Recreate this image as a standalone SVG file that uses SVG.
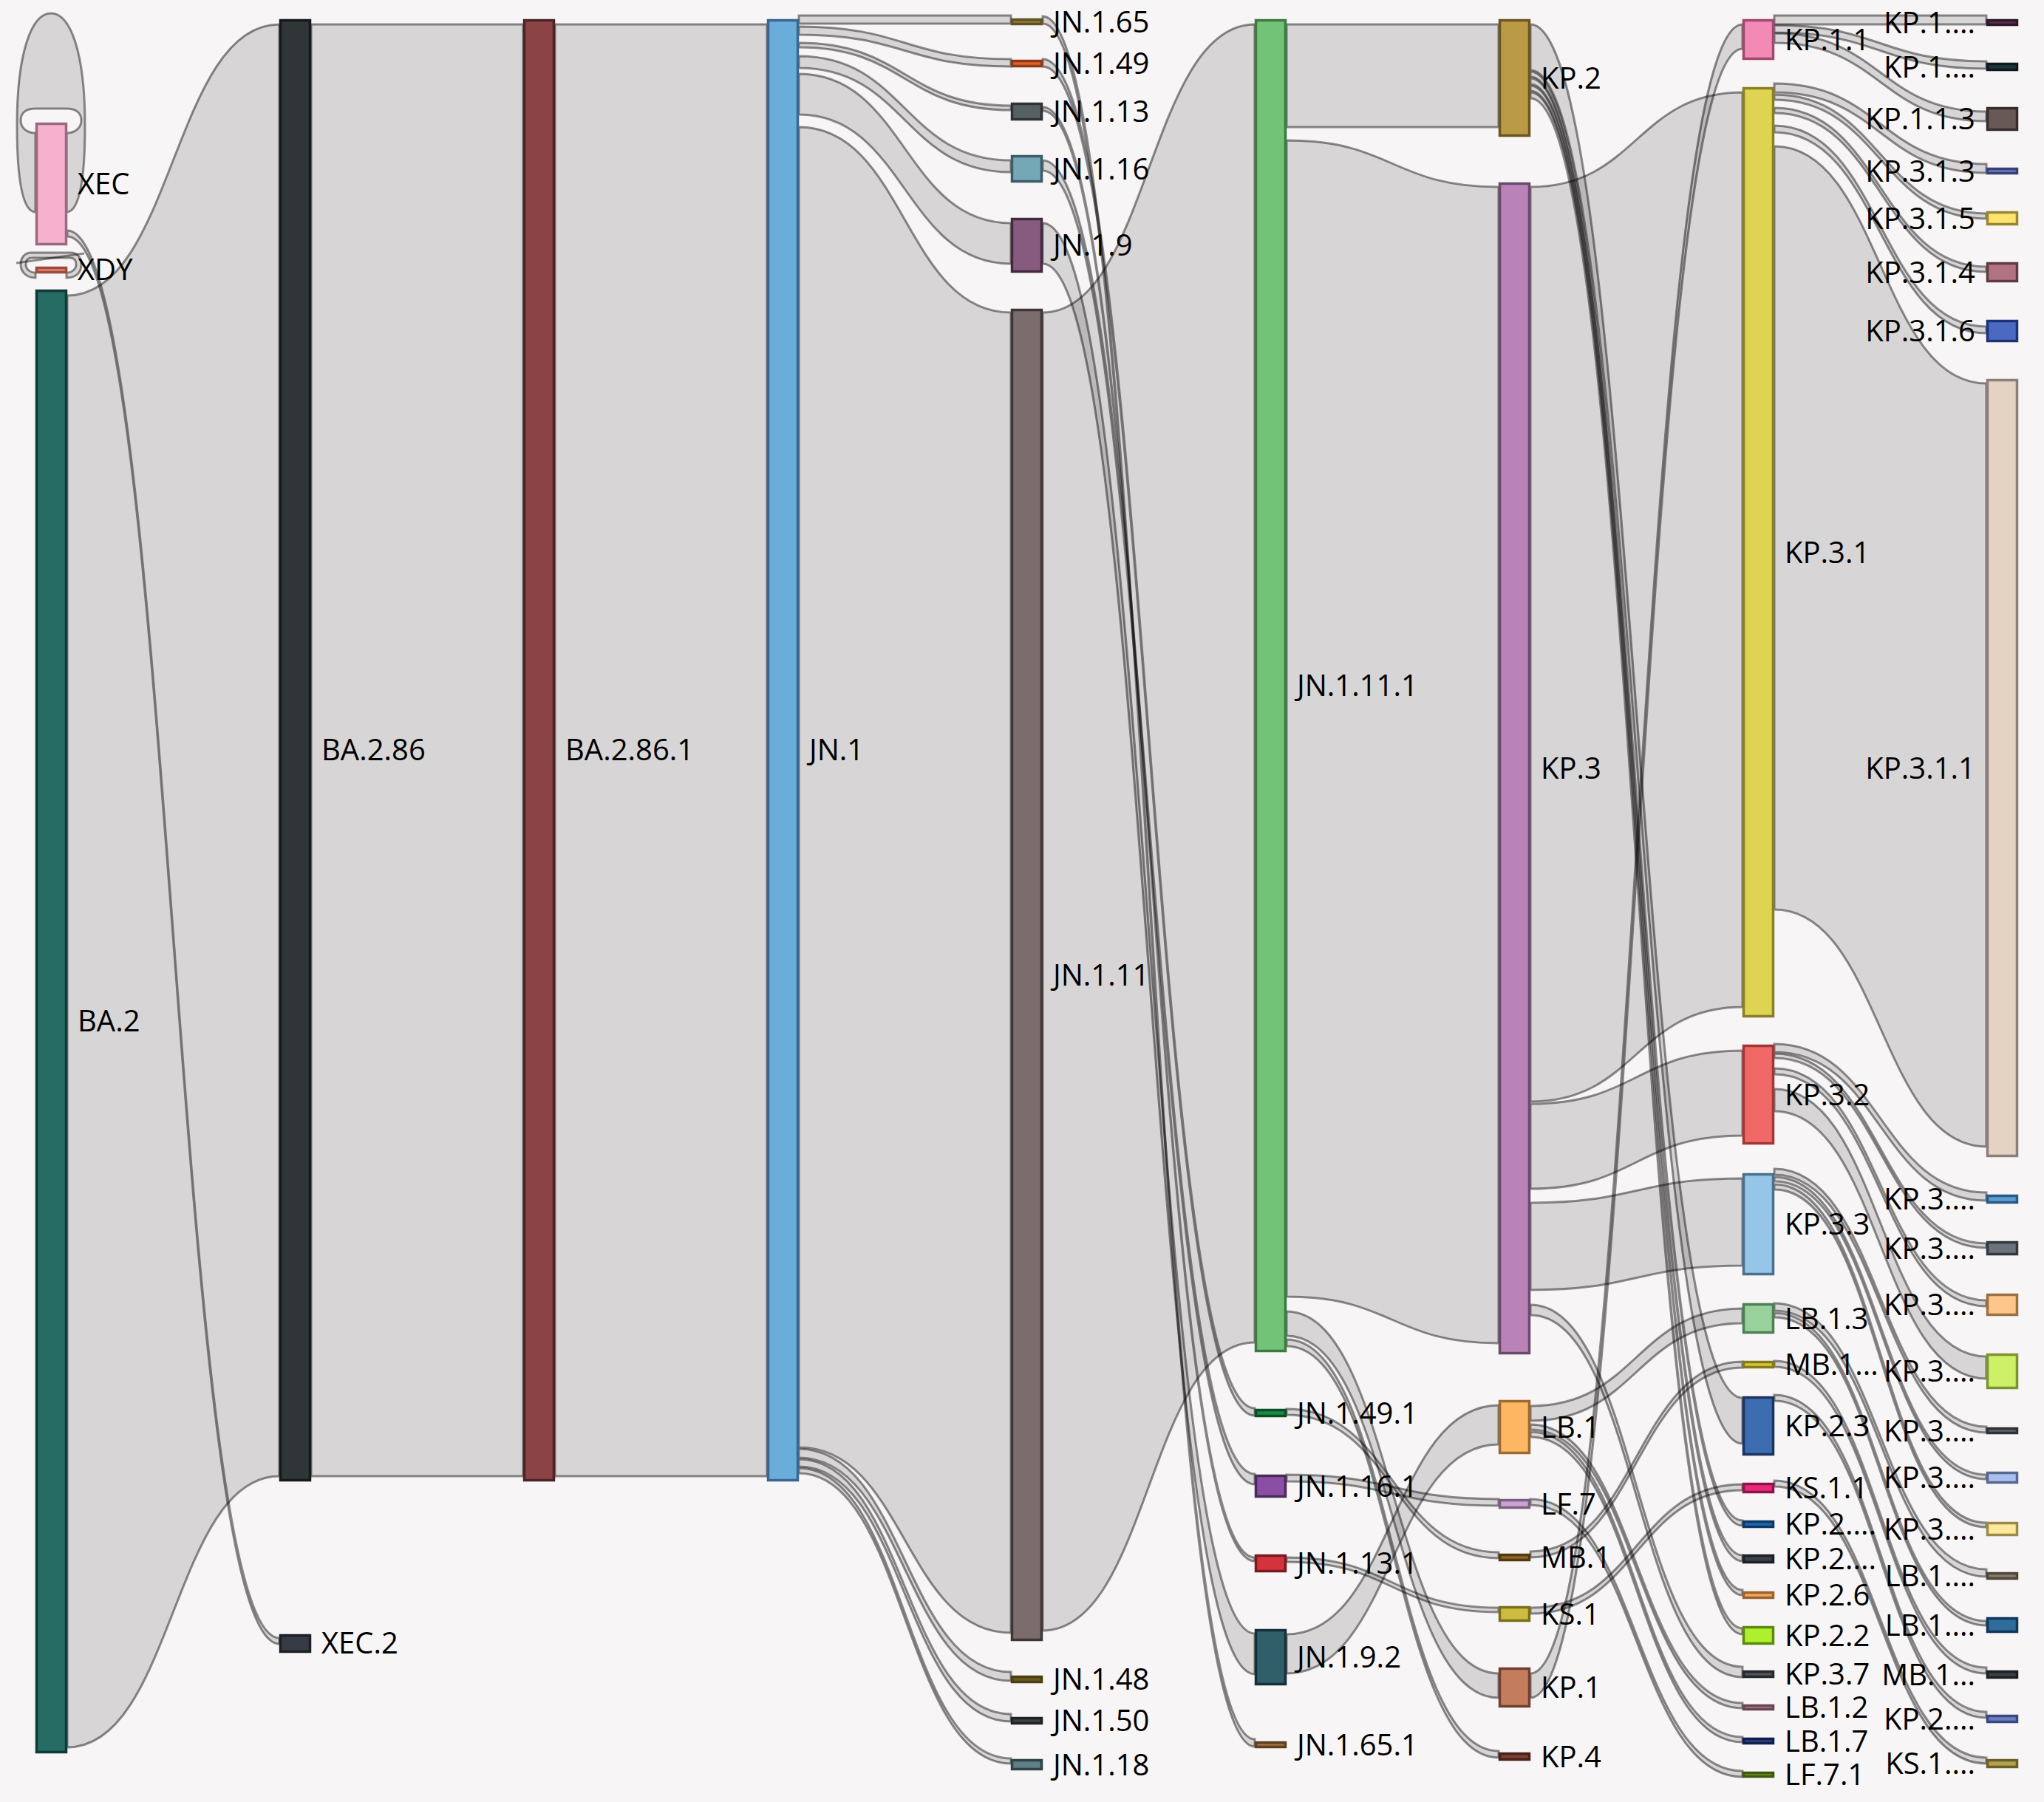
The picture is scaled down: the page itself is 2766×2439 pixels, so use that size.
<svg xmlns="http://www.w3.org/2000/svg" width="2766" height="2439" viewBox="0 0 2766 2439">
<style>
.lk path{fill:#000;fill-opacity:0.13;stroke:#000;stroke-opacity:0.44;stroke-width:3}
.nd rect{stroke-width:3.5}
text{font-family:"Open Sans","Noto Sans","DejaVu Sans",sans-serif;font-size:40px;fill:#000}
.r{text-anchor:end}
</style>
<rect x="0" y="0" width="2766" height="2439" fill="#f8f5f6"/>
<g class="lk" id="links">
<path d="M90,287 C108,287 115,240 115,170 C115,70 95,18 69,18 C43,18 23,70 23,170 C23,240 30,287 48,287 L48,180 C35,180 28,172 28,163 C28,152 36,147 48,147 L90,147 C102,147 110,152 110,163 C110,172 103,180 90,180 Z"/>
<path d="M90,376 C104,376 110,368 110,358 C110,348 104,342 96,342 L42,342 C34,342 28,348 28,358 C28,368 36,376 48,376 L48,369 C40,369 35,364 35,358 C35,352 38,349 43,349 L95,349 C100,349 103,352 103,358 C103,364 98,369 90,369 Z"/>
<path d="M22,356 L114,343" style="fill:none"/>
<path d="M91,400 C234.5,400 234.5,33 378,33 L378,1998 C234.5,1998 234.5,2365 91,2365 Z"/>
<path d="M91,312 C234.5,312 234.5,2217 378,2217 L378,2225 C234.5,2225 234.5,320 91,320 Z"/>
<path d="M421,33 L708,33 L708,1998 L421,1998 Z"/>
<path d="M751,33 L1038,33 L1038,1998 L751,1998 Z"/>
<path d="M1081,21 L1368,21 L1368,32 L1081,32 Z"/>
<path d="M1081,36 C1224.5,36 1224.5,80 1368,80 L1368,90 C1224.5,90 1224.5,47 1081,47 Z"/>
<path d="M1081,58 C1224.5,58 1224.5,143 1368,143 L1368,149 C1224.5,149 1224.5,64 1081,64 Z"/>
<path d="M1081,76 C1224.5,76 1224.5,217 1368,217 L1368,233 C1224.5,233 1224.5,92 1081,92 Z"/>
<path d="M1081,100 C1224.5,100 1224.5,302 1368,302 L1368,357 C1224.5,357 1224.5,155 1081,155 Z"/>
<path d="M1081,172 C1224.5,172 1224.5,423 1368,423 L1368,2210 C1224.5,2210 1224.5,1959 1081,1959 Z"/>
<path d="M1081,1961 C1224.5,1961 1224.5,2263 1368,2263 L1368,2275 C1224.5,2275 1224.5,1973 1081,1973 Z"/>
<path d="M1081,1975 C1224.5,1975 1224.5,2320 1368,2320 L1368,2330 C1224.5,2330 1224.5,1985 1081,1985 Z"/>
<path d="M1081,1987 C1224.5,1987 1224.5,2380 1368,2380 L1368,2387 C1224.5,2387 1224.5,1994 1081,1994 Z"/>
<path d="M1411,22 C1554.5,22 1554.5,2354 1698,2354 L1698,2364 C1554.5,2364 1554.5,32 1411,32 Z"/>
<path d="M1411,80 C1554.5,80 1554.5,1906 1698,1906 L1698,1916 C1554.5,1916 1554.5,90 1411,90 Z"/>
<path d="M1411,145 C1554.5,145 1554.5,2108 1698,2108 L1698,2113 C1554.5,2113 1554.5,150 1411,150 Z"/>
<path d="M1411,217 C1554.5,217 1554.5,1995 1698,1995 L1698,2009 C1554.5,2009 1554.5,231 1411,231 Z"/>
<path d="M1411,302 C1554.5,302 1554.5,2211 1698,2211 L1698,2266 C1554.5,2266 1554.5,357 1411,357 Z"/>
<path d="M1411,423 C1554.5,423 1554.5,33 1698,33 L1698,1817 C1554.5,1817 1554.5,2207 1411,2207 Z"/>
<path d="M1741,33 L2028,33 L2028,172 L1741,172 Z"/>
<path d="M1741,190 C1884.5,190 1884.5,253 2028,253 L2028,1818 C1884.5,1818 1884.5,1755 1741,1755 Z"/>
<path d="M1741,1775 C1884.5,1775 1884.5,2265 2028,2265 L2028,2298 C1884.5,2298 1884.5,1808 1741,1808 Z"/>
<path d="M1741,1813 C1884.5,1813 1884.5,2370 2028,2370 L2028,2379 C1884.5,2379 1884.5,1822 1741,1822 Z"/>
<path d="M1741,1907 C1884.5,1907 1884.5,2101 2028,2101 L2028,2109 C1884.5,2109 1884.5,1915 1741,1915 Z"/>
<path d="M1741,1996 C1884.5,1996 1884.5,2029 2028,2029 L2028,2038 C1884.5,2038 1884.5,2005 1741,2005 Z"/>
<path d="M1741,2108 C1884.5,2108 1884.5,2176 2028,2176 L2028,2182 C1884.5,2182 1884.5,2114 1741,2114 Z"/>
<path d="M1741,2212 C1884.5,2212 1884.5,1902 2028,1902 L2028,1955 C1884.5,1955 1884.5,2265 1741,2265 Z"/>
<path d="M2071,33 C2214.5,33 2214.5,1892 2358,1892 L2358,1954 C2214.5,1954 2214.5,95 2071,95 Z"/>
<path d="M2071,97 C2214.5,97 2214.5,2058 2358,2058 L2358,2065 C2214.5,2065 2214.5,104 2071,104 Z"/>
<path d="M2071,106 C2214.5,106 2214.5,2105 2358,2105 L2358,2113 C2214.5,2113 2214.5,114 2071,114 Z"/>
<path d="M2071,116 C2214.5,116 2214.5,2152 2358,2152 L2358,2159 C2214.5,2159 2214.5,123 2071,123 Z"/>
<path d="M2071,125 C2214.5,125 2214.5,2204 2358,2204 L2358,2212 C2214.5,2212 2214.5,133 2071,133 Z"/>
<path d="M2071,253 C2214.5,253 2214.5,125 2358,125 L2358,1363 C2214.5,1363 2214.5,1491 2071,1491 Z"/>
<path d="M2071,1494 C2214.5,1494 2214.5,1422 2358,1422 L2358,1537 C2214.5,1537 2214.5,1609 2071,1609 Z"/>
<path d="M2071,1628 C2214.5,1628 2214.5,1595 2358,1595 L2358,1713 C2214.5,1713 2214.5,1746 2071,1746 Z"/>
<path d="M2071,1766 C2214.5,1766 2214.5,2256 2358,2256 L2358,2270 C2214.5,2270 2214.5,1780 2071,1780 Z"/>
<path d="M2071,1903 C2214.5,1903 2214.5,1771 2358,1771 L2358,1791 C2214.5,1791 2214.5,1923 2071,1923 Z"/>
<path d="M2071,1928 C2214.5,1928 2214.5,2305 2358,2305 L2358,2312 C2214.5,2312 2214.5,1935 2071,1935 Z"/>
<path d="M2071,1938 C2214.5,1938 2214.5,2351 2358,2351 L2358,2358 C2214.5,2358 2214.5,1945 2071,1945 Z"/>
<path d="M2071,2029 C2214.5,2029 2214.5,2397 2358,2397 L2358,2405 C2214.5,2405 2214.5,2037 2071,2037 Z"/>
<path d="M2071,2100 C2214.5,2100 2214.5,1843 2358,1843 L2358,1851 C2214.5,1851 2214.5,2108 2071,2108 Z"/>
<path d="M2071,2176 C2214.5,2176 2214.5,2009 2358,2009 L2358,2017 C2214.5,2017 2214.5,2184 2071,2184 Z"/>
<path d="M2071,2265 C2214.5,2265 2214.5,33 2358,33 L2358,66 C2214.5,66 2214.5,2298 2071,2298 Z"/>
<path d="M2401,21 L2688,21 L2688,33 L2401,33 Z"/>
<path d="M2401,34 C2544.5,34 2544.5,83 2688,83 L2688,93 C2544.5,93 2544.5,44 2401,44 Z"/>
<path d="M2401,45 C2544.5,45 2544.5,151 2688,151 L2688,164 C2544.5,164 2544.5,58 2401,58 Z"/>
<path d="M2401,113 C2544.5,113 2544.5,222 2688,222 L2688,234 C2544.5,234 2544.5,125 2401,125 Z"/>
<path d="M2401,128 C2544.5,128 2544.5,289 2688,289 L2688,296 C2544.5,296 2544.5,135 2401,135 Z"/>
<path d="M2401,146 C2544.5,146 2544.5,361 2688,361 L2688,368 C2544.5,368 2544.5,153 2401,153 Z"/>
<path d="M2401,170 C2544.5,170 2544.5,442 2688,442 L2688,451 C2544.5,451 2544.5,179 2401,179 Z"/>
<path d="M2401,198 C2544.5,198 2544.5,519 2688,519 L2688,1552 C2544.5,1552 2544.5,1231 2401,1231 Z"/>
<path d="M2401,1413 C2544.5,1413 2544.5,1614 2688,1614 L2688,1625 C2544.5,1625 2544.5,1424 2401,1424 Z"/>
<path d="M2401,1426 C2544.5,1426 2544.5,1683 2688,1683 L2688,1689 C2544.5,1689 2544.5,1432 2401,1432 Z"/>
<path d="M2401,1446 C2544.5,1446 2544.5,1760 2688,1760 L2688,1768 C2544.5,1768 2544.5,1454 2401,1454 Z"/>
<path d="M2401,1474 C2544.5,1474 2544.5,1836 2688,1836 L2688,1866 C2544.5,1866 2544.5,1504 2401,1504 Z"/>
<path d="M2401,1582 C2544.5,1582 2544.5,1931 2688,1931 L2688,1939 C2544.5,1939 2544.5,1590 2401,1590 Z"/>
<path d="M2401,1593 C2544.5,1593 2544.5,1996 2688,1996 L2688,2002 C2544.5,2002 2544.5,1599 2401,1599 Z"/>
<path d="M2401,1603 C2544.5,1603 2544.5,2061 2688,2061 L2688,2067 C2544.5,2067 2544.5,1610 2401,1610 Z"/>
<path d="M2401,1764 C2544.5,1764 2544.5,2124 2688,2124 L2688,2134 C2544.5,2134 2544.5,1774 2401,1774 Z"/>
<path d="M2401,1777 C2544.5,1777 2544.5,2194 2688,2194 L2688,2200 C2544.5,2200 2544.5,1783 2401,1783 Z"/>
<path d="M2401,1842 C2544.5,1842 2544.5,2257 2688,2257 L2688,2265 C2544.5,2265 2544.5,1850 2401,1850 Z"/>
<path d="M2401,1888 C2544.5,1888 2544.5,2317 2688,2317 L2688,2325 C2544.5,2325 2544.5,1896 2401,1896 Z"/>
<path d="M2401,2004 C2544.5,2004 2544.5,2379 2688,2379 L2688,2387 C2544.5,2387 2544.5,2012 2401,2012 Z"/>
</g>
<g class="nd">
<g id="n-XEC"><rect x="49.5" y="167.5" width="40" height="163" fill="#f5b1cd" stroke="#9a6b80"/><text x="105" y="263">XEC</text></g>
<g id="n-XDY"><rect x="49.5" y="362.5" width="40" height="6" fill="#e8826f" stroke="#9e4a3c"/><text x="105" y="379">XDY</text></g>
<g id="n-BA.2"><rect x="49.5" y="393.5" width="40" height="1978" fill="#266c64" stroke="#0f3b36"/><text x="105" y="1396">BA.2</text></g>
<g id="n-BA.2.86"><rect x="379.5" y="27.5" width="40" height="1976" fill="#303538" stroke="#16191b"/><text x="435" y="1029">BA.2.86</text></g>
<g id="n-XEC.2"><rect x="379.5" y="2213.5" width="40" height="22" fill="#353c45" stroke="#1c2025"/><text x="435" y="2238">XEC.2</text></g>
<g id="n-BA.2.86.1"><rect x="709.5" y="27.5" width="40" height="1976" fill="#8b4346" stroke="#4c2426"/><text x="765" y="1029">BA.2.86.1</text></g>
<g id="n-JN.1"><rect x="1039.5" y="27.5" width="40" height="1976" fill="#6badda" stroke="#3b6690"/><text x="1095" y="1029">JN.1</text></g>
<g id="n-JN.1.65"><rect x="1369.5" y="26.5" width="40" height="6" fill="#8f7d37" stroke="#5f5224"/><text x="1425" y="44">JN.1.65</text></g>
<g id="n-JN.1.49"><rect x="1369.5" y="82.5" width="40" height="7" fill="#e1602b" stroke="#8d3a18"/><text x="1425" y="100">JN.1.49</text></g>
<g id="n-JN.1.13"><rect x="1369.5" y="140.5" width="40" height="21" fill="#576163" stroke="#2c3335"/><text x="1425" y="165">JN.1.13</text></g>
<g id="n-JN.1.16"><rect x="1369.5" y="211.5" width="40" height="34" fill="#75a8b7" stroke="#3b5d68"/><text x="1425" y="243">JN.1.16</text></g>
<g id="n-JN.1.9"><rect x="1369.5" y="296.5" width="40" height="71" fill="#865b7f" stroke="#442a40"/><text x="1425" y="346">JN.1.9</text></g>
<g id="n-JN.1.11"><rect x="1369.5" y="419.5" width="40" height="1800" fill="#7b6d6d" stroke="#3f3535"/><text x="1425" y="1334">JN.1.11</text></g>
<g id="n-JN.1.48"><rect x="1369.5" y="2269.5" width="40" height="7" fill="#6b5b1f" stroke="#4a3e12"/><text x="1425" y="2287">JN.1.48</text></g>
<g id="n-JN.1.50"><rect x="1369.5" y="2325.5" width="40" height="7" fill="#3c4244" stroke="#1e2224"/><text x="1425" y="2343">JN.1.50</text></g>
<g id="n-JN.1.18"><rect x="1369.5" y="2382.5" width="40" height="12" fill="#5f7e86" stroke="#2e4248"/><text x="1425" y="2403">JN.1.18</text></g>
<g id="n-JN.1.11.1"><rect x="1699.5" y="27.5" width="40" height="1801" fill="#72c277" stroke="#3c7a41"/><text x="1755" y="942">JN.1.11.1</text></g>
<g id="n-JN.1.49.1"><rect x="1699.5" y="1908.5" width="40" height="8" fill="#178a46" stroke="#0b4d26"/><text x="1755" y="1927">JN.1.49.1</text></g>
<g id="n-JN.1.16.1"><rect x="1699.5" y="1997.5" width="40" height="28" fill="#8a4ea4" stroke="#4a2a5a"/><text x="1755" y="2026">JN.1.16.1</text></g>
<g id="n-JN.1.13.1"><rect x="1699.5" y="2105.5" width="40" height="21" fill="#d2333d" stroke="#7a1a20"/><text x="1755" y="2130">JN.1.13.1</text></g>
<g id="n-JN.1.9.2"><rect x="1699.5" y="2206.5" width="40" height="73" fill="#305e69" stroke="#14303a"/><text x="1755" y="2257">JN.1.9.2</text></g>
<g id="n-JN.1.65.1"><rect x="1699.5" y="2358.5" width="40" height="6" fill="#a0713d" stroke="#5e4020"/><text x="1755" y="2376">JN.1.65.1</text></g>
<g id="n-KP.2"><rect x="2029.5" y="27.5" width="40" height="156" fill="#ba9a44" stroke="#6b5520"/><text x="2085" y="120">KP.2</text></g>
<g id="n-KP.3"><rect x="2029.5" y="248.5" width="40" height="1583" fill="#ba83b8" stroke="#6a4a6a"/><text x="2085" y="1054">KP.3</text></g>
<g id="n-LB.1"><rect x="2029.5" y="1896.5" width="40" height="70" fill="#fdb662" stroke="#9a6a30"/><text x="2085" y="1946">LB.1</text></g>
<g id="n-LF.7"><rect x="2029.5" y="2030.5" width="40" height="10" fill="#c9a3d1" stroke="#7a5f80"/><text x="2085" y="2050">LF.7</text></g>
<g id="n-MB.1"><rect x="2029.5" y="2104.5" width="40" height="7" fill="#8b6526" stroke="#52390f"/><text x="2085" y="2122">MB.1</text></g>
<g id="n-KS.1"><rect x="2029.5" y="2175.5" width="40" height="18" fill="#cdbc40" stroke="#7a6f18"/><text x="2085" y="2199">KS.1</text></g>
<g id="n-KP.1"><rect x="2029.5" y="2258.5" width="40" height="51" fill="#c37c5c" stroke="#6f4030"/><text x="2085" y="2298">KP.1</text></g>
<g id="n-KP.4"><rect x="2029.5" y="2373.5" width="40" height="8" fill="#7b3f2f" stroke="#4a2219"/><text x="2085" y="2392">KP.4</text></g>
<g id="n-KP.1.1"><rect x="2359.5" y="27.5" width="40" height="52" fill="#f38ab6" stroke="#9e4a6e"/><text x="2415" y="68">KP.1.1</text></g>
<g id="n-KP.3.1"><rect x="2359.5" y="119.5" width="40" height="1256" fill="#dfd451" stroke="#8a7f25"/><text x="2415" y="762">KP.3.1</text></g>
<g id="n-KP.3.2"><rect x="2359.5" y="1415.5" width="40" height="132" fill="#f16967" stroke="#a23636"/><text x="2415" y="1496">KP.3.2</text></g>
<g id="n-KP.3.3"><rect x="2359.5" y="1589.5" width="40" height="135" fill="#95c5e7" stroke="#4b708d"/><text x="2415" y="1671">KP.3.3</text></g>
<g id="n-LB.1.3"><rect x="2359.5" y="1765.5" width="40" height="38" fill="#99d19c" stroke="#4f7e53"/><text x="2415" y="1799">LB.1.3</text></g>
<g id="n-MB.1.x"><rect x="2359.5" y="1843.5" width="40" height="7" fill="#d5c53b" stroke="#857a18"/><text x="2415" y="1861">MB.1...</text></g>
<g id="n-KP.2.3"><rect x="2359.5" y="1891.5" width="40" height="77" fill="#3e6cb1" stroke="#1b3561"/><text x="2415" y="1944">KP.2.3</text></g>
<g id="n-KS.1.1"><rect x="2359.5" y="2008.5" width="40" height="11" fill="#e9297b" stroke="#8e1347"/><text x="2415" y="2028">KS.1.1</text></g>
<g id="n-KP.2.a"><rect x="2359.5" y="2059.5" width="40" height="7" fill="#1c68b1" stroke="#0d3a66"/><text x="2415" y="2077">KP.2....</text></g>
<g id="n-KP.2.b"><rect x="2359.5" y="2105.5" width="40" height="9" fill="#3b4049" stroke="#1d2026"/><text x="2415" y="2124">KP.2....</text></g>
<g id="n-KP.2.6"><rect x="2359.5" y="2155.5" width="40" height="7" fill="#f6a65b" stroke="#9a6330"/><text x="2415" y="2173">KP.2.6</text></g>
<g id="n-KP.2.2"><rect x="2359.5" y="2202.5" width="40" height="22" fill="#aff02e" stroke="#5c8a10"/><text x="2415" y="2228">KP.2.2</text></g>
<g id="n-KP.3.7"><rect x="2359.5" y="2262.5" width="40" height="7" fill="#4e5459" stroke="#25292c"/><text x="2415" y="2280">KP.3.7</text></g>
<g id="n-LB.1.2"><rect x="2359.5" y="2308.5" width="40" height="5" fill="#b17b90" stroke="#6a4554"/><text x="2415" y="2325">LB.1.2</text></g>
<g id="n-LB.1.7"><rect x="2359.5" y="2353.5" width="40" height="6" fill="#2b408b" stroke="#111f4d"/><text x="2415" y="2371">LB.1.7</text></g>
<g id="n-LF.7.1"><rect x="2359.5" y="2399.5" width="40" height="5" fill="#709b1e" stroke="#3e570c"/><text x="2415" y="2416">LF.7.1</text></g>
<g id="n-KP.1.a"><rect x="2689.5" y="27.5" width="40" height="6" fill="#5b3151" stroke="#2e172a"/><text class="r" x="2673" y="45">KP.1....</text></g>
<g id="n-KP.1.b"><rect x="2689.5" y="86.5" width="40" height="8" fill="#1f3439" stroke="#0c1a1d"/><text class="r" x="2673" y="105">KP.1....</text></g>
<g id="n-KP.1.1.3"><rect x="2689.5" y="146.5" width="40" height="29" fill="#685957" stroke="#352c2b"/><text class="r" x="2673" y="175">KP.1.1.3</text></g>
<g id="n-KP.3.1.3"><rect x="2689.5" y="228.5" width="40" height="6" fill="#6b7bb9" stroke="#35427a"/><text class="r" x="2673" y="246">KP.3.1.3</text></g>
<g id="n-KP.3.1.5"><rect x="2689.5" y="287.5" width="40" height="16" fill="#fce46f" stroke="#9a8630"/><text class="r" x="2673" y="310">KP.3.1.5</text></g>
<g id="n-KP.3.1.4"><rect x="2689.5" y="356.5" width="40" height="24" fill="#b17383" stroke="#5f3a45"/><text class="r" x="2673" y="383">KP.3.1.4</text></g>
<g id="n-KP.3.1.6"><rect x="2689.5" y="434.5" width="40" height="27" fill="#4b69c1" stroke="#1d3274"/><text class="r" x="2673" y="462">KP.3.1.6</text></g>
<g id="n-KP.3.1.1"><rect x="2689.5" y="514.5" width="40" height="1050" fill="#e4d3c2" stroke="#8b7f78"/><text class="r" x="2673" y="1054">KP.3.1.1</text></g>
<g id="n-KP.3.x1"><rect x="2689.5" y="1618.5" width="40" height="9" fill="#5b9cd1" stroke="#2a5a85"/><text class="r" x="2673" y="1637">KP.3....</text></g>
<g id="n-KP.3.x2"><rect x="2689.5" y="1681.5" width="40" height="16" fill="#6c727b" stroke="#33383e"/><text class="r" x="2673" y="1704">KP.3....</text></g>
<g id="n-KP.3.x3"><rect x="2689.5" y="1752.5" width="40" height="27" fill="#fdc68b" stroke="#9a7040"/><text class="r" x="2673" y="1780">KP.3....</text></g>
<g id="n-KP.3.x4"><rect x="2689.5" y="1833.5" width="40" height="45" fill="#cef067" stroke="#7a9530"/><text class="r" x="2673" y="1870">KP.3....</text></g>
<g id="n-KP.3.x5"><rect x="2689.5" y="1933.5" width="40" height="6" fill="#5f656b" stroke="#2e3236"/><text class="r" x="2673" y="1951">KP.3....</text></g>
<g id="n-KP.3.x6"><rect x="2689.5" y="1993.5" width="40" height="13" fill="#a9c0ef" stroke="#56698f"/><text class="r" x="2673" y="2014">KP.3....</text></g>
<g id="n-KP.3.x7"><rect x="2689.5" y="2061.5" width="40" height="16" fill="#fee89b" stroke="#9a8a4a"/><text class="r" x="2673" y="2084">KP.3....</text></g>
<g id="n-LB.1.x1"><rect x="2689.5" y="2129.5" width="40" height="7" fill="#867b6b" stroke="#4e463b"/><text class="r" x="2673" y="2147">LB.1....</text></g>
<g id="n-LB.1.x2"><rect x="2689.5" y="2190.5" width="40" height="18" fill="#2f6b9b" stroke="#12375a"/><text class="r" x="2673" y="2214">LB.1....</text></g>
<g id="n-MB.1.y"><rect x="2689.5" y="2262.5" width="40" height="8" fill="#3b4046" stroke="#1c1f22"/><text class="r" x="2673" y="2281">MB.1...</text></g>
<g id="n-KP.2.y"><rect x="2689.5" y="2322.5" width="40" height="8" fill="#6c7fc1" stroke="#3a4880"/><text class="r" x="2673" y="2341">KP.2....</text></g>
<g id="n-KS.1.y"><rect x="2689.5" y="2382.5" width="40" height="9" fill="#b1a151" stroke="#6a5f25"/><text class="r" x="2673" y="2401">KS.1....</text></g>
</g>
</svg>
